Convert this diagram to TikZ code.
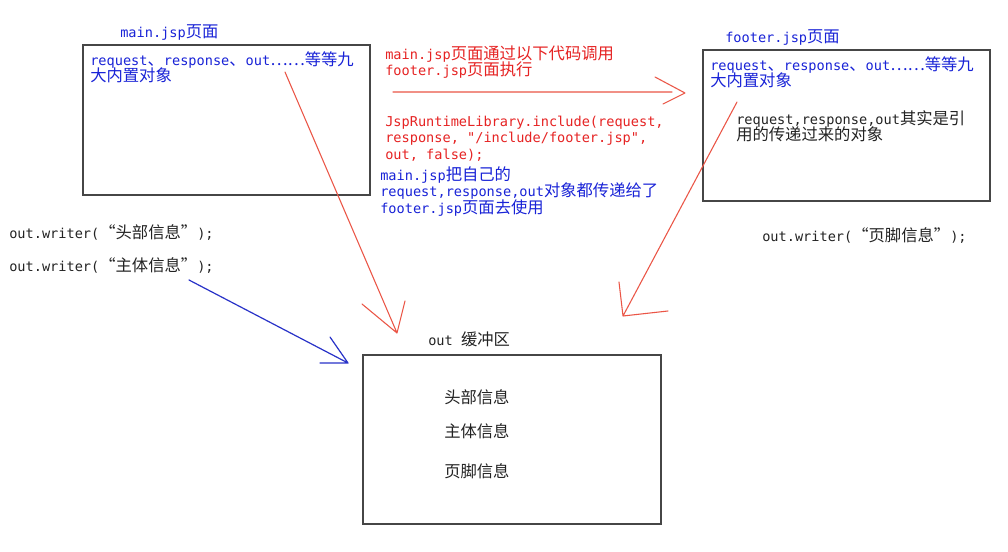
\documentclass[tikz,border=0pt]{standalone}
\usepackage{fontspec}
\setmainfont{DejaVu Sans Mono}
\newfontfamily\latfont{DejaVu Sans Mono}
\newfontfamily\cjkfont[Scale=1.2]{Noto Sans CJK SC}
\XeTeXinterchartokenstate=1
\newXeTeXintercharclass\CJKcls
\newcount\cc
\cc=0 \loop \XeTeXcharclass\cc=0 \advance\cc 1 \ifnum\cc<"0300 \repeat
\cc="3000 \loop \XeTeXcharclass\cc=\CJKcls \advance\cc 1 \ifnum\cc<"A000 \repeat
\cc="FF00 \loop \XeTeXcharclass\cc=\CJKcls \advance\cc 1 \ifnum\cc<"FFF0 \repeat
\XeTeXcharclass"2026=\CJKcls
\XeTeXcharclass"201C=\CJKcls
\XeTeXcharclass"201D=\CJKcls
\XeTeXinterchartoks 0 \CJKcls = {\cjkfont}
\XeTeXinterchartoks 4095 \CJKcls = {\cjkfont}
\XeTeXinterchartoks \CJKcls 0 = {\latfont}
\XeTeXinterchartoks 4095 0 = {\latfont}
\definecolor{tblue}{RGB}{25,35,215}
\definecolor{tred}{RGB}{230,35,35}
\definecolor{ared}{RGB}{235,85,70}
\definecolor{ablue}{RGB}{40,50,200}
\definecolor{boxc}{RGB}{70,70,70}
\definecolor{tblack}{RGB}{35,35,35}
\newcommand\fsz{\fontsize{10.2pt}{12.6pt}\selectfont\frenchspacing}
\begin{document}
\begin{tikzpicture}[x=0.75pt,y=-0.75pt,
  box/.style={draw=boxc, line width=1.1pt, inner sep=0pt, outer sep=0pt, anchor=north west},
  txt/.style={anchor=base west, inner sep=0pt, align=left, font=\fsz},
  redline/.style={draw=ared, line width=0.8pt, line cap=round},
  blueline/.style={draw=ablue, line width=0.9pt, line cap=round}]
\useasboundingbox[fill=white] (0,0) rectangle (1008,551);
% boxes
\node[box, minimum width=215.25pt, minimum height=112.5pt] (mainbox) at (83,45) {};
\node[box, minimum width=215.25pt, minimum height=113.25pt] (footbox) at (703,50) {};
\node[box, minimum width=223.5pt, minimum height=126.75pt] (bufbox) at (363,355) {};
% texts (base anchor = baseline of the last line)
\node[txt, tblue] (mainlbl) at (120,37) {main.jsp页面};
\node[txt, tblue] (maintxt) at (90,81.8) {request、response、out……等等九\\大内置对象};
\node[txt, tblack] (w1) at (9,238) {out.writer(“头部信息”);};
\node[txt, tblack] (w2) at (9,271) {out.writer(“主体信息”);};
\node[txt, tred] (calltxt) at (385,75.8) {main.jsp页面通过以下代码调用\\footer.jsp页面执行};
\node[txt, tred] (codetxt) at (385,159.6) {JspRuntimeLibrary.include(request,\\response, "/include/footer.jsp",\\out, false);};
\node[txt, tblue] (passtxt) at (380,213.6) {main.jsp把自己的\\request,response,out对象都传递给了\\footer.jsp页面去使用};
\node[txt, tblue] (footlbl) at (725,42) {footer.jsp页面};
\node[txt, tblue] (foottxt) at (710,86.8) {request、response、out……等等九\\大内置对象};
\node[txt, tblack] (reftxt) at (736,140.8) {request,response,out其实是引\\用的传递过来的对象};
\node[txt, tblack] (w3) at (762,241) {out.writer(“页脚信息”);};
\node[txt, tblack] (buflbl) at (428,345) {out 缓冲区};
\node[txt, tblack] (b1) at (444,403) {头部信息};
\node[txt, tblack] (b2) at (444,437) {主体信息};
\node[txt, tblack] (b3) at (444,477) {页脚信息};
% arrows
\coordinate (r1s) at (285,72); \coordinate (r1t) at (397,333);
\draw[redline] (r1s) -- (r1t) (r1t) -- ++(-35,-29) (r1t) -- ++(8,-32);
\coordinate (r2s) at (393,92); \coordinate (r2e) at (672,92); \coordinate (r2t) at (685,93);
\draw[redline] (r2s) -- (r2e) (r2t) -- ++(-30,-16) (r2t) -- ++(-22,11);
\coordinate (r3s) at (737,102); \coordinate (r3t) at (623,316);
\draw[redline] (r3s) -- (r3t) (r3t) -- ++(-4,-34) (r3t) -- ++(45,-5);
\coordinate (b1s) at (189,280); \coordinate (b1t) at (348,363);
\draw[blueline] (b1s) -- (b1t) (b1t) -- ++(-18,-26) (b1t) -- ++(-28,0);
\end{tikzpicture}
\end{document}
